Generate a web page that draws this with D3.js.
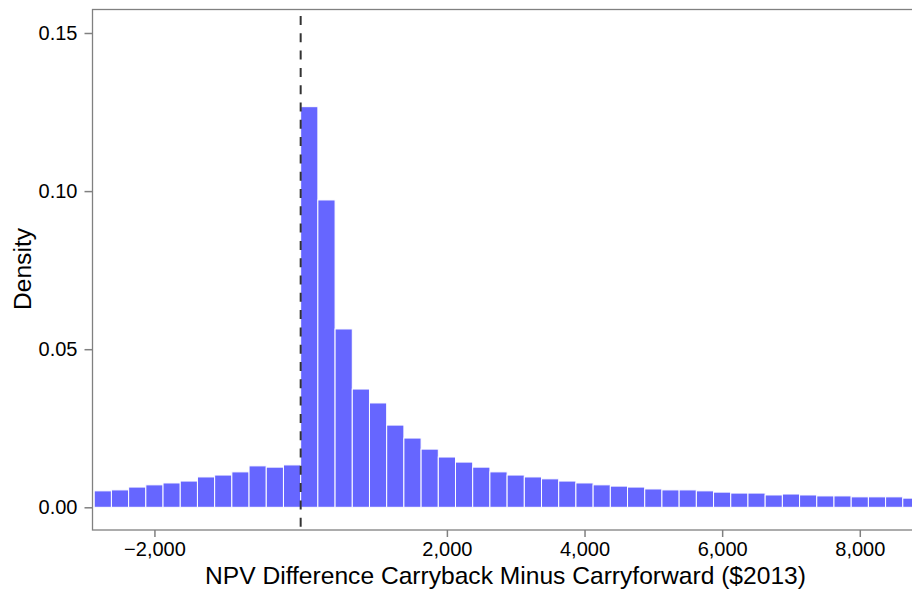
<!DOCTYPE html>
<html>
<head>
<meta charset="utf-8">
<script src="https://cdn.jsdelivr.net/npm/d3@7"></script>
<style>
  body { margin: 0; background: #fff; }
  svg { display: block; font-family: "Liberation Sans", Arial, sans-serif; }
</style>
</head>
<body>
<svg id="chart" width="912" height="593"></svg>
<script>
// histogram bins, 250 wide, left edges
const binWidth = 250
const negBins = [-3000, -2750, -2500, -2250, -2000, -1750, -1500, -1250, -1000, -750, -500, -250]
const negDensity = [0.0052, 0.0055, 0.0064, 0.0071, 0.0077, 0.0083, 0.0096, 0.0102, 0.0112, 0.0131, 0.0127, 0.0134]
const posDensity = [0.1267, 0.0972, 0.0564, 0.0374, 0.0330, 0.0260, 0.0219, 0.0184, 0.0159, 0.0143,
                    0.0127, 0.0112, 0.0102, 0.0096, 0.0090, 0.0083, 0.0077, 0.0071, 0.0067, 0.0064,
                    0.0058, 0.0055, 0.0055, 0.0052, 0.0048, 0.0045, 0.0045, 0.0039, 0.0042, 0.0039,
                    0.0036, 0.0036, 0.0033, 0.0033, 0.0033, 0.0029]

// x tick marks sit on bin midpoints
const xTickValues = [-2125, 2125, 4125, 6125, 8125]
const xTickLabels = ['\u22122,000', '2,000', '4,000', '6,000', '8,000']
const yTickValues = [0, 0.05, 0.10, 0.15]

const bins = negBins.map((b, i) => ({x0: b, d: negDensity[i]}))
    .concat(posDensity.map((d, i) => ({x0: i * binWidth, d: d})))

const svg = d3.select('#chart')
const padL = 92.5, padT = 9.5, padB = 530, padR = 920

const x = d3.scaleLinear().domain([-3025, 9000]).range([padL, padR])
const y = d3.scaleLinear().domain([0, 0.15]).range([507.3, 33])

svg.append('g')
    .selectAll('rect')
    .data(bins)
    .join('rect')
        .attr('x', d => x(d.x0))
        .attr('y', d => y(d.d))
        .attr('width', d => x(d.x0 + binWidth) - x(d.x0))
        .attr('height', d => y(0) - y(d.d))
        .attr('fill', '#6666ff')
        .attr('stroke', '#ffffff')
        .attr('stroke-width', 1)

// reference line at zero
svg.append('line')
    .attr('x1', x(0)).attr('x2', x(0))
    .attr('y1', padT).attr('y2', padB)
    .attr('stroke', '#333')
    .attr('stroke-width', 2)
    .attr('stroke-dasharray', '9,8.3')
    .attr('stroke-dashoffset', 10.8)

// panel frame
svg.append('rect')
    .attr('x', padL).attr('y', padT)
    .attr('width', padR - padL).attr('height', padB - padT)
    .attr('fill', 'none')
    .attr('stroke', '#808080')
    .attr('stroke-width', 1.3)

const xAxis = svg.append('g')
    .attr('transform', 'translate(0,' + padB + ')')
    .call(d3.axisBottom(x).tickValues(xTickValues)
        .tickFormat((d, i) => xTickLabels[i]).tickSizeOuter(0).tickSizeInner(7).tickPadding(5))
xAxis.select('.domain').remove()
xAxis.selectAll('line').attr('stroke', '#808080').attr('stroke-width', 1.5)
xAxis.selectAll('text').attr('font-size', 20).attr('fill', '#000').attr('font-family', null)

const yAxis = svg.append('g')
    .attr('transform', 'translate(' + padL + ',0)')
    .call(d3.axisLeft(y).tickValues(yTickValues)
        .tickFormat(d3.format('.2f')).tickSizeOuter(0).tickSizeInner(8).tickPadding(7))
yAxis.select('.domain').remove()
yAxis.selectAll('line').attr('stroke', '#808080').attr('stroke-width', 1.5)
yAxis.selectAll('text').attr('font-size', 20).attr('fill', '#000').attr('font-family', null)

svg.append('text')
    .attr('x', 505.5).attr('y', 584)
    .attr('text-anchor', 'middle')
    .attr('font-size', 24.6)
    .text('NPV Difference Carryback Minus Carryforward ($2013)')

svg.append('text')
    .attr('transform', 'translate(31,269) rotate(-90)')
    .attr('text-anchor', 'middle')
    .attr('font-size', 24.6)
    .text('Density')
</script>
</body>
</html>
